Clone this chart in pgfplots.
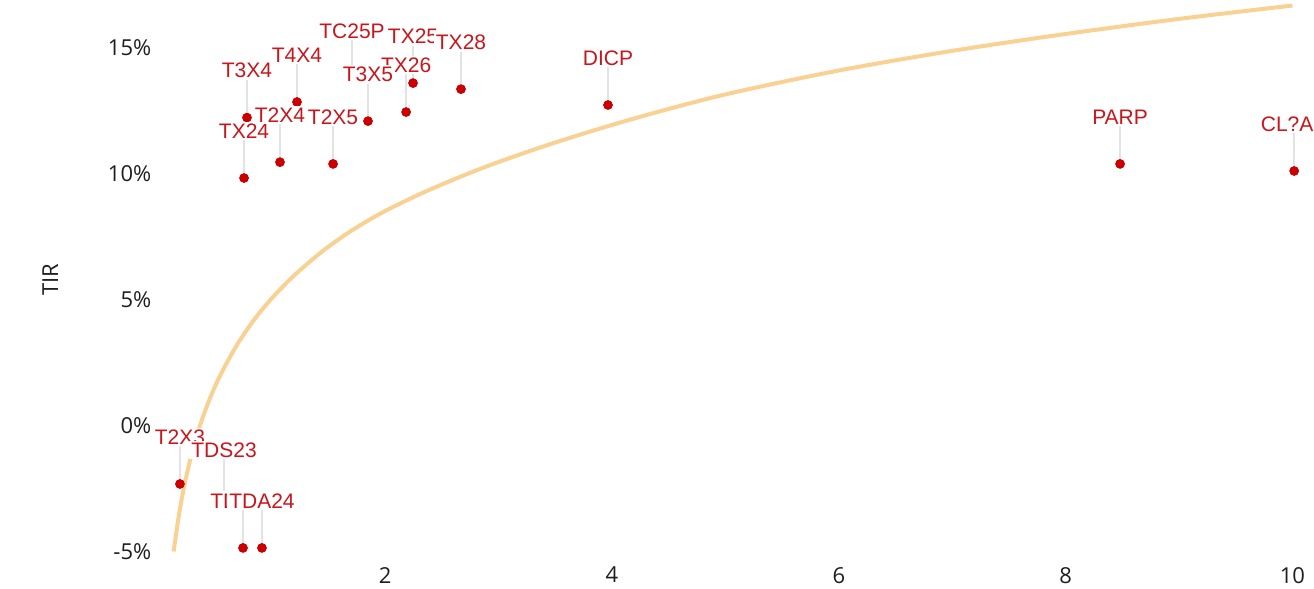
\documentclass[border=0pt]{standalone}
\usepackage{pgfplots}
\usepackage{pgfplotstable}
\pgfplotsset{compat=1.18}
\usepackage{fontspec}
\setmainfont{Open Sans}
\newfontfamily\lblfont{Liberation Sans}

\definecolor{trend}{HTML}{F8D193}
\definecolor{dotred}{HTML}{CC0000}
\definecolor{lblred}{HTML}{C8161D}
\definecolor{leader}{HTML}{E3E3E3}
\definecolor{ticktxt}{HTML}{1E1E1E}

% points: x, TIR (%), label -- row order = drawing order of labels
\pgfplotstableread{
x      y      label
0.782  12.23  T3X4
0.756   9.83  TX24
1.223  12.85  T4X4
1.073  10.46  T2X4
1.541  10.39  T2X5
1.708  13.80  TC25P
2.185  12.45  TX26
1.849  12.09  T3X5
2.246  13.60  TX25
2.669  13.36  TX28
3.965  12.73  DICP
8.480  10.39  PARP
10.015 10.11  CL?AP
0.191  -2.32  T2X3
0.580  -2.84  TDS23
0.747  -4.86  TDA23
0.914  -4.86  TDA24
}\pts

% trend line
\pgfplotstableread{
x     y
0.135 -5.00
0.15  -4.53
0.17  -3.90
0.20  -3.08
0.24  -2.16
0.30  -1.03
0.37   0.03
0.45   1.02
0.55   2.03
0.70   3.25
0.85   4.23
1.00   5.05
1.20   5.97
1.45   6.93
1.70   7.73
2.00   8.52
2.40   9.38
2.90  10.30
3.50  11.24
4.20  12.20
5.00  13.15
6.00  14.10
7.00  14.88
8.00  15.55
9.00  16.15
10.00 16.68
}\trendtab

\begin{document}
\begin{tikzpicture}
\begin{axis}[
    name=ax,
    scale only axis,
    width=577.85pt,
    height=279.5pt,
    xmin=0, xmax=10.19,
    ymin=-5.3, ymax=16.9,
    clip=false,
    axis line style={draw=none},
    tick style={draw=none},
    xtick={2,4,6,8,10},
    ytick={-5,0,5,10,15},
    /pgf/number format/assume math mode=true,
    yticklabel={\pgfmathprintnumber{\tick}\%},
    ticklabel style={font=\fontsize{11}{13}\selectfont, text=ticktxt},
    xticklabel style={yshift=-0.5pt},
    ylabel={TIR},
    ylabel style={at={(axis description cs:-0.0934,0.5)}, anchor=center,
        font=\fontsize{11}{13}\selectfont, text=ticktxt},
]
\addplot[trend, line width=2pt, smooth, no markers] table[x=x, y=y] {\trendtab};

% leader lines
\addplot[only marks, mark=none,
    error bars/.cd, y dir=plus, y fixed=1.87, error mark=none,
    error bar style={draw=leader, line width=0.75pt}]
    table[x=x, y=y] {\pts};

% dots
\addplot[only marks, mark=*, mark size=2.2pt, color=dotred, draw=dotred, fill=dotred]
    table[x=x, y=y] {\pts};

% labels
\addplot[only marks, mark=none,
    nodes near coords, point meta=explicit symbolic,
    every node near coord/.append style={anchor=center, yshift=23.5pt,
        font=\lblfont\fontsize{10.5}{12}\selectfont, text=lblred,
        fill=white, inner sep=1pt}]
    table[x=x, y=y, meta=label] {\pts};
\end{axis}
\pgfresetboundingbox
\path[use as bounding box] ([xshift=-79.15pt, yshift=-14.5pt]ax.south west) rectangle (ax.north east);
\end{tikzpicture}
\end{document}
